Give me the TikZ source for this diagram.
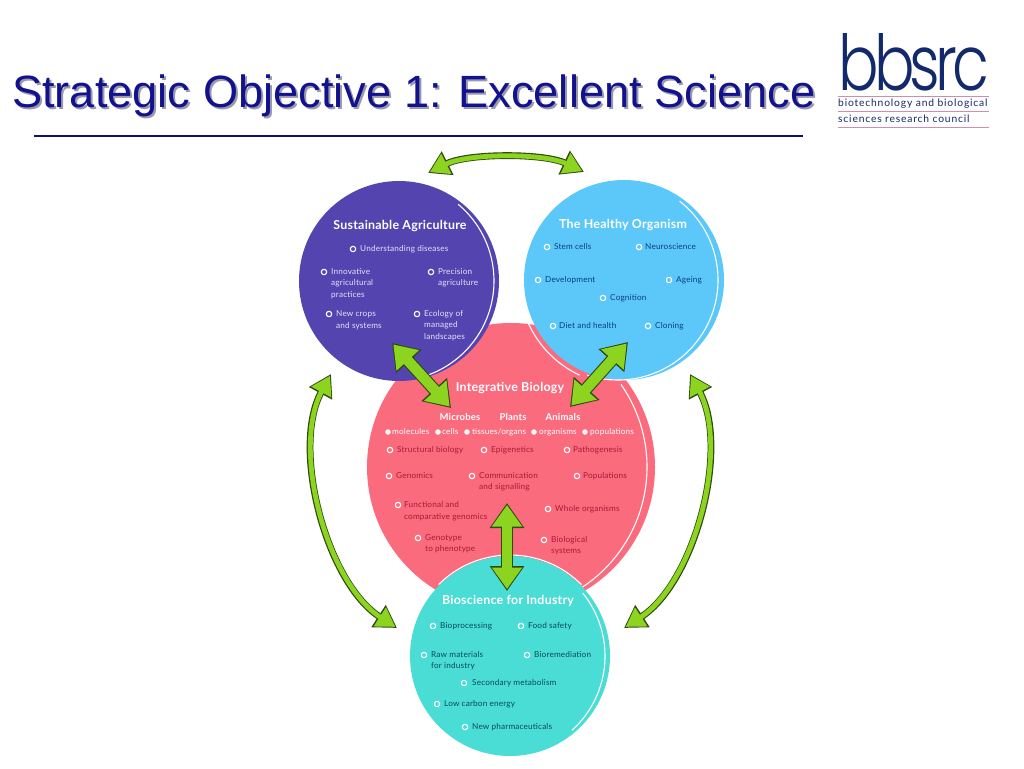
\documentclass[tikz,border=0pt]{standalone}
\usepackage{fontspec}
\usepackage{graphicx}
\usetikzlibrary{arrows.meta}
\setmainfont{Liberation Sans}
\newfontfamily\lab[LetterSpace=2]{Lato}
\newfontfamily\logof[LetterSpace=-8]{Poppins Light}
\newfontfamily\logot[LetterSpace=8]{Lato}
\definecolor{purp}{HTML}{5344B0}
\definecolor{sky}{HTML}{5CC7F9}
\definecolor{rose}{HTML}{FB6B7E}
\definecolor{teal2}{HTML}{4ADDD6}
\definecolor{grn}{HTML}{8CD41F}
\definecolor{dgrn}{HTML}{2F4A10}
\definecolor{navy2}{HTML}{10106E}
\definecolor{titleb}{HTML}{12128F}
\definecolor{titles}{HTML}{9A9AAE}
\definecolor{logob}{HTML}{12296B}
\definecolor{pinkl}{HTML}{CC8FAE}
\definecolor{skyt}{HTML}{0B3F80}
\definecolor{roset}{HTML}{A81A36}
\definecolor{tealt}{HTML}{0A4A58}
\definecolor{purt}{HTML}{E4E2F6}
\tikzset{
  disc/.style={circle,inner sep=0pt,minimum size=#1},
  warc/.style={draw=white,line width=1.1pt},
  txt/.style={anchor=west,inner sep=0pt,align=left,font=\fontsize{8.2}{11.5}\selectfont\lab},
  bul/.style={circle,inner sep=0pt,minimum size=5.4pt,draw=white,line width=1.1pt},
  sbul/.style={circle,inner sep=0pt,minimum size=5.5pt,fill=white},
  ttl/.style={inner sep=0pt,text=white,font=\fontsize{12.4}{14}\selectfont\lab\bfseries},
  bigback/.style={draw=dgrn,line width=12.6pt,arrows={Triangle[length=25pt,width=33pt]-Triangle[length=25pt,width=33pt]}},
  bigfront/.style={draw=grn,line width=10.4pt,shorten >=2pt,shorten <=2pt,arrows={Triangle[length=21.5pt,width=29pt]-Triangle[length=21.5pt,width=29pt]}},
  curback/.style={draw=dgrn,line width=6.8pt,arrows={Triangle[length=22pt,width=25pt]-Triangle[length=22pt,width=25pt]}},
  curfront/.style={draw=grn,line width=4.8pt,shorten >=2pt,shorten <=2pt,arrows={Triangle[length=18.5pt,width=21.5pt]-Triangle[length=18.5pt,width=21.5pt]}},
}
\newcommand\st{\strut}
\newcommand\itm[5]{\node[bul] (#1b) at (#2,#3) {};\node[txt] (#1) at (#4,#3) {#5};}
\newcommand\sitm[4]{\node[sbul] (#1b) at (#2,432) {};\node[txt,text=white] (#1) at (#3,432) {\st #4};}
\begin{document}
\begin{tikzpicture}[x=1pt,y=-1pt]
\useasboundingbox (0,0) rectangle (1024,768);
\fill[white] (0,0) rectangle (1024,768);
% title
\node[anchor=base west,inner sep=0pt,text=titles,font=\fontsize{45.2}{50}\selectfont] (titleshadow) at (14,109) {Strategic Objective 1: Excellent Science};
\node[anchor=base west,inner sep=0pt,text=titleb,font=\fontsize{45.2}{50}\selectfont] (title) at (12,107) {Strategic Objective 1: Excellent Science};
\coordinate (ruleA) at (34,136); \coordinate (ruleB) at (803,136);
\draw[navy2,line width=2pt] (ruleA) -- (ruleB);
% logo
\node[anchor=north west,inner sep=0pt,text=logob] (logo) at (838,33) {\resizebox{151pt}{57pt}{\logof bbsrc}};
\coordinate (l1a) at (838,96); \coordinate (l1b) at (989,96);
\coordinate (l2a) at (838,111); \coordinate (l2b) at (989,111);
\coordinate (l3a) at (838,127); \coordinate (l3b) at (989,127);
\draw[pinkl,line width=.9pt] (l1a) -- (l1b) (l2a) -- (l2b) (l3a) -- (l3b);
\node[anchor=base west,inner sep=0pt,text=logob,font=\fontsize{10.3}{11}\selectfont\logot] (logoa) at (838,106.5) {biotechnology and biological};
\node[anchor=base west,inner sep=0pt,text=logob,font=\fontsize{10.3}{11}\selectfont\logot] (logob) at (838,122) {sciences research council};
% discs
\node[disc=288pt,fill=rose] (red) at (511,467) {};
\draw[warc] ([shift={(35:144pt)}] 503,467) arc[start angle=35,end angle=-57,radius=144pt];
\node[disc=200pt,fill=purp] (pur) at (399,281) {};
\draw[warc] ([shift={(50:100pt)}] 394,281) arc[start angle=50,end angle=-73,radius=100pt];
\draw[warc] ([shift={(203:105pt)}] 624,280) arc[start angle=203,end angle=245,radius=105pt];
\node[disc=200pt,fill=sky] (blu) at (624,280) {};
\draw[warc] ([shift={(52:100pt)}] 618,280) arc[start angle=52,end angle=-108,radius=100pt];
\draw[warc] ([shift={(135:101pt)}] 510,656) arc[start angle=135,end angle=45,radius=101pt];
\node[disc=200pt,fill=teal2] (tea) at (510,656) {};
\draw[warc] ([shift={(39:100pt)}] 505,656) arc[start angle=39,end angle=-48,radius=100pt];
% purple
\node[ttl] (patt) at (400,226) {Sustainable Agriculture};
\begin{scope}[every node/.append style={text=purt}]
\itm{p1}{353}{249}{360}{\st Understanding diseases}
\node[bul] (p2b) at (324,272) {};\node[txt] (p2) at (331,283.5) {\st Innovative\\\st agricultural\\\st practices};
\node[bul] (p3b) at (431,272) {};\node[txt] (p3) at (438,277.5) {\st Precision\\\st agriculture};
\node[bul] (p4b) at (329,314) {};\node[txt] (p4) at (336,320) {\st New crops\\\st and systems};
\node[bul] (p5b) at (417,314) {};\node[txt] (p5) at (424,325.5) {\st Ecology of\\\st managed\\\st landscapes};
\end{scope}
% blue
\node[ttl] (bt) at (623,225) {The Healthy Organism};
\begin{scope}[every node/.append style={text=skyt}]
\itm{h1}{547}{247}{554}{\st Stem cells}
\itm{h2}{639}{247}{645}{\st Neuroscience}
\itm{h3}{538}{280}{545}{\st Development}
\itm{h4}{669}{280}{676}{\st Ageing}
\itm{h5}{603}{298}{610}{\st Cognition}
\itm{h6}{553}{326}{559}{\st Diet and health}
\itm{h7}{648}{326}{655}{\st Cloning}
\end{scope}
% red
\node[ttl] (rt) at (510,388) {Integrative Biology};
\node[ttl,font=\fontsize{9.5}{12}\selectfont\lab\bfseries] (r1) at (460,417) {Microbes};
\node[ttl,font=\fontsize{9.5}{12}\selectfont\lab\bfseries] (r2) at (513,417) {Plants};
\node[ttl,font=\fontsize{9.5}{12}\selectfont\lab\bfseries] (r3) at (563,417) {Animals};
\sitm{s1}{388}{392}{molecules}
\sitm{s2}{438}{442}{cells}
\sitm{s3}{467}{472}{tissues/organs}
\sitm{s4}{534}{539}{organisms}
\sitm{s5}{585}{590}{populations}
\begin{scope}[every node/.append style={text=roset}]
\itm{i1}{390}{450}{397}{\st Structural biology}
\itm{i2}{484}{450}{491}{\st Epigenetics}
\itm{i3}{567}{450}{573}{\st Pathogenesis}
\itm{i4}{389}{476}{396}{\st Genomics}
\node[bul] (i5b) at (472,476) {};\node[txt] (i5) at (479,481.5) {\st Communication\\\st and signalling};
\itm{i6}{577}{476}{583}{\st Populations}
\node[bul] (i7b) at (398,505) {};\node[txt] (i7) at (404,511) {\st Functional and\\\st comparative genomics};
\itm{i8}{548}{509}{555}{\st Whole organisms}
\node[bul] (i9b) at (418,538) {};\node[txt] (i9) at (425,543.5) {\st Genotype\\\st to phenotype};
\node[bul] (i10b) at (544,540) {};\node[txt] (i10) at (551,545.5) {\st Biological\\\st systems};
\end{scope}
% teal
\node[ttl] (tt) at (508,601) {Bioscience for Industry};
\begin{scope}[every node/.append style={text=tealt}]
\itm{t1}{433}{626}{440}{\st Bioprocessing}
\itm{t2}{521}{626}{528}{\st Food safety}
\node[bul] (t3b) at (424,655) {};\node[txt] (t3) at (431,660.5) {\st Raw materials\\\st for industry};
\itm{t4}{527}{655}{534}{\st Bioremediation}
\itm{t5}{464}{683}{472}{\st Secondary metabolism}
\itm{t6}{437}{704}{444}{\st Low carbon energy}
\itm{t7}{465}{727}{472}{\st New pharmaceuticals}
\end{scope}
% connectors
\coordinate (pa) at (392,343); \coordinate (ra) at (451,408);
\coordinate (ha) at (628,342); \coordinate (rb) at (570,407);
\coordinate (rc) at (507,503); \coordinate (ta) at (507,591);
\draw[bigback] (pa) -- (ra); \draw[bigfront] (pa) -- (ra);
\draw[bigback] (ha) -- (rb); \draw[bigfront] (ha) -- (rb);
\draw[bigback] (rc) -- (ta); \draw[bigfront] (rc) -- (ta);
\coordinate (pt) at (428,173); \coordinate (ht) at (584,172);
\coordinate (pb) at (331,374); \coordinate (tl) at (397,628);
\coordinate (hb) at (690,374); \coordinate (tr) at (624,628);
\foreach \s in {curback,curfront}{
  \draw[\s] (pt) .. controls (468,153) and (544,153) .. (ht);
  \draw[\s] (pb) .. controls (291,448) and (326,582) .. (tl);
  \draw[\s] (hb) .. controls (730,448) and (695,582) .. (tr);
}
\end{tikzpicture}
\end{document}
